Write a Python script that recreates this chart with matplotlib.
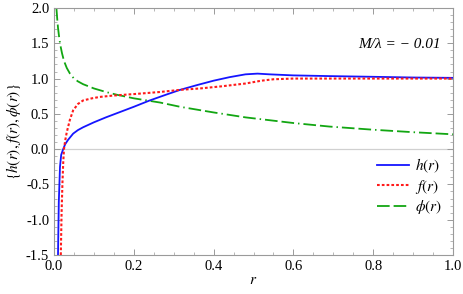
import matplotlib
matplotlib.use("Agg")
import matplotlib.pyplot as plt
from matplotlib.ticker import MultipleLocator

plt.rcParams["font.family"] = ["Liberation Serif", "DejaVu Serif"]
plt.rcParams["mathtext.fontset"] = "stix"

# values
h_r = [0.010, 0.012, 0.015, 0.018, 0.023, 0.028, 0.035, 0.048, 0.060, 0.073, 0.10,
       0.13, 0.158, 0.20, 0.24, 0.28, 0.316, 0.36, 0.40, 0.44, 0.48, 0.51, 0.54,
       0.60, 0.69, 0.80, 0.90, 1.0]
h_v = [-1.5, -0.75, -0.25, -0.08, 0.0, 0.07, 0.13, 0.22, 0.27, 0.31, 0.38,
       0.45, 0.51, 0.60, 0.69, 0.77, 0.84, 0.91, 0.97, 1.02, 1.06, 1.07, 1.06,
       1.045, 1.035, 1.025, 1.015, 1.01]

f_r = [0.017, 0.019, 0.021, 0.023, 0.025, 0.028, 0.032, 0.040, 0.048, 0.060, 0.073,
       0.095, 0.115, 0.15, 0.20, 0.266, 0.316, 0.366, 0.42, 0.48, 0.52, 0.55,
       0.60, 0.80, 1.0]
f_v = [-1.5, -0.9, -0.5, -0.2, 0.0, 0.12, 0.24, 0.42, 0.55, 0.64, 0.69,
       0.72, 0.74, 0.76, 0.78, 0.81, 0.84, 0.86, 0.89, 0.93, 0.97, 0.99,
       1.0, 1.0, 1.0]

phi_r = [0.006, 0.008, 0.010, 0.013, 0.016, 0.020, 0.025, 0.032, 0.040, 0.050,
         0.060, 0.073, 0.10, 0.13, 0.158, 0.20, 0.266, 0.316, 0.40, 0.48, 0.60,
         0.69, 0.80, 0.90, 1.0]
phi_v = [2.0, 1.85, 1.72, 1.58, 1.47, 1.36, 1.25, 1.15, 1.07, 1.0,
         0.96, 0.92, 0.86, 0.81, 0.77, 0.72, 0.66, 0.60, 0.52, 0.45, 0.37,
         0.32, 0.275, 0.24, 0.21]

frame = "#9a9a9a"

fig = plt.figure(figsize=(4.64, 2.94), dpi=100)
ax = fig.add_axes([0.1164, 0.1327, 0.8599, 0.8401])

ax.axhline(0, color="#d0d0d0", lw=0.9, zorder=1)
ax.plot(h_r, h_v, color="#1515ff", lw=1.3, label=r"$h(r)$", zorder=3)
ax.plot(f_r, f_v, color="#ff1a1a", lw=1.5, dashes=(1.3, 1.0), label=r"$f(r)$", zorder=4)
ax.plot(phi_r, phi_v, color="#12a612", lw=1.3,
        dashes=(7.0, 2.2, 7.0, 2.2, 0.8, 2.2),
        label=r"$\phi(r)$", zorder=2)

ax.set_xlim(0, 1)
ax.set_ylim(-1.5, 2.0)
ax.xaxis.set_major_locator(MultipleLocator(0.2))
ax.xaxis.set_minor_locator(MultipleLocator(0.05))
ax.yaxis.set_major_locator(MultipleLocator(0.5))
ax.yaxis.set_minor_locator(MultipleLocator(0.1))
ax.xaxis.set_major_formatter(lambda v, p: f"{v:.1f}")
ax.yaxis.set_major_formatter(lambda v, p: f"{v:.1f}")

for s in ax.spines.values():
    s.set_color(frame)
    s.set_linewidth(0.8)
ax.tick_params(which="both", direction="in", top=True, right=True, color=frame,
               labelsize=10.5, labelcolor="black")
ax.tick_params(which="major", length=4, width=0.7)
ax.tick_params(which="minor", length=2, width=0.5)

ax.set_xlabel(r"$r$", fontsize=11, labelpad=1)
ax.set_ylabel(r"$\{h(r),f(r),\phi(r)\}$", fontsize=11, labelpad=2)

ax.text(0.97, 0.854, "M/λ = − 0.01", transform=ax.transAxes, fontstyle="italic",
        ha="right", va="center", fontsize=11)

ax.legend(loc="upper right", bbox_to_anchor=(1.0, 0.44), frameon=False, fontsize=11,
          handlelength=2.1, handletextpad=0.4, labelspacing=0.15, borderpad=0.2)

fig.savefig("out.png", dpi=100)
plt.close(fig)
